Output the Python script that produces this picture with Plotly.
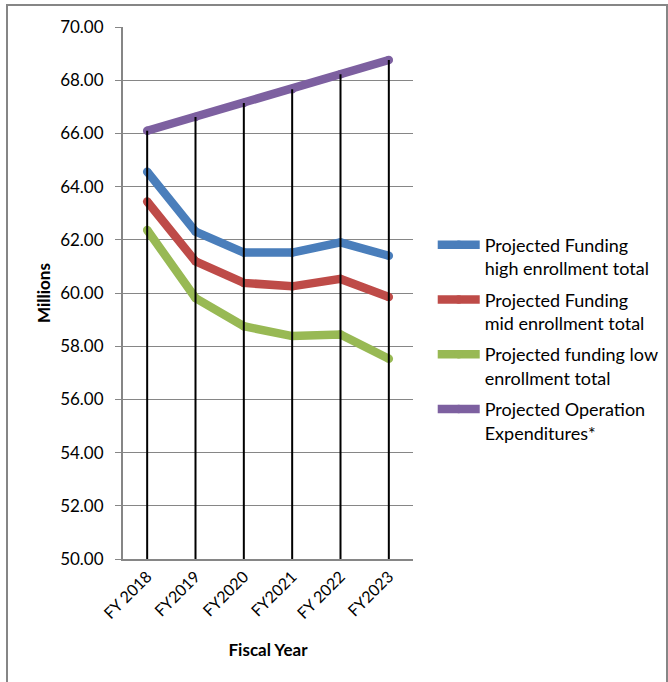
import plotly.graph_objects as go

categories = ["FY 2018", "FY2019", "FY2020", "FY2021", "FY 2022", "FY2023"]
high = [64.56, 62.31, 61.52, 61.52, 61.90, 61.40]
mid = [63.44, 61.19, 60.38, 60.25, 60.53, 59.85]
low = [62.37, 59.81, 58.75, 58.38, 58.44, 57.53]
opex = [66.10, 66.62, 67.14, 67.66, 68.22, 68.76]
names = ["Projected Funding<br>high enrollment total",
         "Projected Funding<br>mid enrollment total",
         "Projected funding low<br>enrollment total",
         "Projected Operation<br>Expenditures*"]
colors = ["#4A7EBB", "#BE4B48", "#98B954", "#7D60A0"]
y_min, y_max = 50, 70

FONT = "Lato, 'Open Sans', sans-serif"

fig = go.Figure()
for i, (vals, name, col) in enumerate(zip([high, mid, low, opex], names, colors)):
    fig.add_trace(go.Scatter(
        x=categories, y=vals, name=name, mode="lines+markers",
        legendgroup=f"g{i}",
        line=dict(color=col, width=8.5),
        marker=dict(color=col, size=8.5),
    ))

# drop lines from the highest series to the axis
dx, dy = [], []
for c, v in zip(categories, opex):
    dx += [c, c, None]
    dy += [y_min, v, None]
fig.add_trace(go.Scatter(x=dx, y=dy, mode="lines", showlegend=False,
                         line=dict(color="black", width=2), hoverinfo="skip"))

fig.update_layout(
    width=668, height=682,
    margin=dict(l=123, r=255, t=27, b=123, autoexpand=False),
    paper_bgcolor="white", plot_bgcolor="white",
    font=dict(family=FONT, size=17, color="#000000"),
    showlegend=True,
    legend=dict(x=1.068, y=0.625, xanchor="left", yanchor="top",
                font=dict(size=18), traceorder="grouped", tracegroupgap=5,
                valign="top", itemwidth=42,
                bgcolor="rgba(0,0,0,0)"),
    xaxis=dict(type="category", range=[-0.5, 5.5], tickangle=-45,
               showgrid=False, showline=True, linecolor="#868686", linewidth=2,
               ticks="", tickfont=dict(size=16),
               title=dict(text="<b>Fiscal Year</b>", font=dict(size=17), standoff=23)),
    yaxis=dict(range=[y_min, y_max], dtick=2, tickformat=".2f",
               showgrid=True, gridcolor="#868686", gridwidth=1,
               showline=True, linecolor="#868686", linewidth=2,
               ticks="outside", ticklen=6, tickcolor="#868686",
               ticklabelstandoff=8,
               tickfont=dict(size=17), zeroline=False,
               title=dict(text="<b>Millions</b>", font=dict(size=17), standoff=5)),
)

fig.add_shape(type="rect", xref="paper", yref="paper",
              x0=(7 - 123) / 290, x1=(667 - 123) / 290,
              y0=-0.3, y1=(559 - 5) / 532,
              line=dict(color="#868686", width=2), layer="below")

fig.write_html("out.html")
